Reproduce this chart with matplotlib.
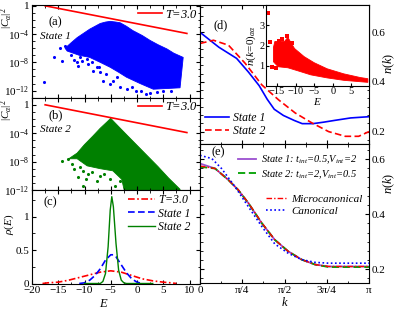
import numpy as np
import matplotlib
matplotlib.use("Agg")
import matplotlib.pyplot as plt
from matplotlib.ticker import MultipleLocator, FixedLocator, LogLocator, NullFormatter, AutoMinorLocator

plt.rcParams['font.family'] = ['Liberation Serif', 'DejaVu Serif']
plt.rcParams['mathtext.fontset'] = 'custom'
plt.rcParams['mathtext.rm'] = 'Liberation Serif'
plt.rcParams['mathtext.it'] = 'Liberation Serif:italic'
plt.rcParams['font.size'] = 8
plt.rcParams['xtick.direction'] = 'in'
plt.rcParams['ytick.direction'] = 'in'
plt.rcParams['xtick.major.size'] = 3
plt.rcParams['ytick.major.size'] = 3
plt.rcParams['xtick.minor.size'] = 1.8
plt.rcParams['ytick.minor.size'] = 1.8
plt.rcParams['axes.linewidth'] = 0.8

# ---------------- data ----------------
# Boltzmann weight line T=3.0 (log scale straight line)
T_line_E = [-17.5, 9.5]
T_line_val = [1.0, 1.23e-4]

# panel (a) State 1 cloud: log10 |C|^2 envelopes
a_up_E = [-13.7, -12.5, -11.4, -10, -9, -8, -7, -6, -5.1, -4, -3.2, -2, -0.8, 1, 2.5, 4, 5.7, 7, 8.8]
a_up_v = [-6.0, -5.2, -4.5, -3.8, -3.3, -2.9, -2.5, -2.3, -2.2, -2.3, -2.4, -2.9, -3.5, -4.2, -4.9, -5.5, -6.1, -6.7, -7.3]
a_lo_E = [-13.7, -13.3, -11, -9, -7, -5.1, -3.5, -2, 0.6, 3.1, 5.7, 8.2, 8.8]
a_lo_v = [-6.0, -6.4, -7.0, -7.3, -8.0, -8.7, -9.4, -10.1, -11.0, -11.8, -11.7, -11.6, -7.3]
a_out_E = [-15.9, -14.3, -14.7, -13.7, -17.7, -11.5, -11.2, -9.6, -9.3, -8.3, -7.0, -6.4, -5.1, -3.2,
           -2.0, -0.1, 1.8, 3.8, -3.9, -7.7, -9.0, -10.5, -9.9, -12.5, -12.0, -8.6, -6.0, -4.5,
           -1.0, 0.8, 2.5, 5.0, 6.5, -10.8, -7.3]
a_out_v = [-7.3, -7.8, -5.9, -5.65, -10.8, -8.0, -8.5, -7.5, -8.2, -9.2, -9.4, -10.6, -11.1, -11.5,
           -11.8, -12.0, -12.5, -12.2, -10.1, -8.7, -6.8, -7.8, -6.6, -6.9, -7.6, -7.9, -9.6, -10.6,
           -11.5, -12.1, -12.3, -12.0, -12.1, -7.2, -8.6]

# panel (b) State 2 cloud
b_up_E = [-13.0, -11.4, -10, -8.4, -7, -5.7, -5.0, -4.5, -2, 0, 2, 4, 6, 8.2]
b_up_v = [-7.6, -6.8, -5.6, -4.4, -3.3, -2.4, -1.9, -2.3, -4.2, -5.7, -7.2, -8.7, -10.3, -11.9]
b_lo_E = [-13.0, -11.4, -9.5, -7, -4.6, -2.9, -2.3, 8.2]
b_lo_v = [-7.6, -7.6, -8.6, -9.0, -9.3, -10.5, -12.5, -12.5]
b_out_E = [-14.3, -13.1, -12.4, -10.9, -10.2, -9.3, -7.0, -5.1, -7.7, -11.2, -3.2, -4.2, -10.2,
           -8.5, -6.2, -12.0, -9.8]
b_out_v = [-7.9, -7.6, -8.3, -8.8, -9.3, -9.7, -10.0, -10.5, -10.7, -10.2, -10.7, -11.4, -11.5,
           -9.4, -9.8, -9.0, -10.4]

# panel (c) energy distributions
c_T_E = [-18, -17, -15, -13, -11, -9, -7, -5, -3, -1, 1, 3, 5, 6.5, 7.5]
c_T_r = [0.0, 0.01, 0.02, 0.05, 0.09, 0.13, 0.17, 0.19, 0.17, 0.12, 0.07, 0.04, 0.02, 0.01, 0.0]
c_s1_E = [-11, -10, -9, -8, -7, -6, -5, -4.5, -4, -3, -2, -1, 0, 1]
c_s1_r = [0.0, 0.01, 0.05, 0.12, 0.22, 0.35, 0.43, 0.43, 0.40, 0.28, 0.16, 0.07, 0.02, 0.0]
c_s2_E = [-10, -7, -6.5, -6, -5.5, -5.1, -4.8, -4.5, -4, -3.5, -3, -2.5, -2, 3]
c_s2_r = [0.0, 0.0, 0.03, 0.15, 0.55, 1.1, 1.3, 1.15, 0.6, 0.2, 0.05, 0.01, 0.0, 0.0]

# panel (d) momentum distributions
d_k = [0, 0.35, 0.68, 0.9, 1.1, 1.25, 1.38, 1.55, 1.75, 1.9, 2.1, 2.3, 2.5, 2.8, np.pi]
d_s1 = [0.60, 0.54, 0.495, 0.44, 0.385, 0.33, 0.29, 0.265, 0.245, 0.232, 0.232, 0.238, 0.245, 0.255, 0.26]
d_k2 = [0, 0.25, 0.53, 0.84, 1.15, 1.46, 1.77, 2.08, 2.39, 2.70, 2.95, np.pi]
d_s2 = [0.555, 0.568, 0.548, 0.475, 0.388, 0.328, 0.275, 0.235, 0.20, 0.181, 0.181, 0.20]

# inset: n(k=0)_aa vs E
in_up_E = [-16.0, -15.6, -13.0, -12.1, -10.3, -7.7, -5.0, -1.5, 3.0, 7.4, 9.5]
in_up_n = [1.9, 2.2, 2.2, 2.4, 1.85, 1.45, 1.15, 0.85, 0.6, 0.42, 0.36]
in_lo_E = [-16.0, -14.7, -12.1, -9.4, -5.9, -1.5, 3.0, 9.5]
in_lo_n = [1.2, 0.95, 0.9, 0.75, 0.55, 0.4, 0.28, 0.18]
in_out_E = [-17.5, -16.3, -14.5, -12.4, -11.0, -16.8, -13.6, -15.2]
in_out_n = [3.6, 0.95, 2.2, 2.45, 2.1, 2.15, 2.3, 0.9]

# panel (e)
e_k = [0, 0.28, 0.53, 0.71, 0.9, 1.15, 1.39, 1.64, 1.89, 2.14, 2.39, 2.7, np.pi]
e_s1 = [0.584, 0.566, 0.524, 0.488, 0.44, 0.367, 0.307, 0.265, 0.235, 0.217, 0.21, 0.21, 0.21]
e_s2 = [0.572, 0.566, 0.524, 0.488, 0.44, 0.367, 0.307, 0.265, 0.235, 0.217, 0.208, 0.208, 0.208]
e_mic = [0.575, 0.566, 0.524, 0.489, 0.441, 0.368, 0.307, 0.265, 0.235, 0.217, 0.21, 0.21, 0.21]
e_can_k = [0, 0.22, 0.40, 0.65, 0.90, 1.15, 1.39, 1.64, 1.89, 2.14, 2.39, 2.7, np.pi]
e_can = [0.614, 0.602, 0.566, 0.50, 0.427, 0.355, 0.292, 0.258, 0.235, 0.225, 0.222, 0.222, 0.222]

W, H = 396, 311
fig = plt.figure(figsize=(W / 100, H / 100), dpi=100)

def fr(x0, y0, x1, y1):
    return [x0 / W, 1 - y1 / H, (x1 - x0) / W, (y1 - y0) / H]

axa = fig.add_axes(fr(32, 5, 200, 97.7))
axb = fig.add_axes(fr(32, 97.7, 200, 190))
axc = fig.add_axes(fr(32, 190, 200, 283.5))
axd = fig.add_axes(fr(200, 5, 369, 144))
axe = fig.add_axes(fr(200, 144, 369, 283))
axi = fig.add_axes(fr(266, 5, 369, 86))

BLUE = '#0000ff'
GREEN = '#008000'
RED = '#ff0000'

def cloud(ax, upE, upv, loE, lov, oE, ov, color):
    xs = list(upE) + list(loE[::-1])
    ys = [10 ** v for v in list(upv) + list(lov[::-1])]
    ax.fill(xs, ys, color=color, lw=0.6, ec=color)
    ax.scatter(oE, [10 ** v for v in ov], s=5, color=color, lw=0)

for ax, dat, color, lab, st in [
        (axa, (a_up_E, a_up_v, a_lo_E, a_lo_v, a_out_E, a_out_v), BLUE, '(a)', 'State 1'),
        (axb, (b_up_E, b_up_v, b_lo_E, b_lo_v, b_out_E, b_out_v), GREEN, '(b)', 'State 2')]:
    ax.set_yscale('log')
    cloud(ax, *dat, color)
    ax.plot(T_line_E, T_line_val, color=RED, lw=1.2, label='$T$=3.0')
    ax.set_xlim(-20, 12)
    ax.xaxis.set_major_locator(MultipleLocator(5))
    ax.xaxis.set_minor_locator(MultipleLocator(2.5))
    ax.tick_params(axis='x', which='both', top=True, labelbottom=False)
    ax.tick_params(axis='y', which='both', right=True)
    ax.yaxis.set_major_locator(FixedLocator([1e-12, 1e-8, 1e-4, 1]))
    ax.yaxis.set_minor_locator(LogLocator(base=10, numticks=30))
    ax.yaxis.set_minor_formatter(NullFormatter())
    ax.set_yticklabels(['$10^{-12}$', '$10^{-8}$', '$10^{-4}$', '1'])
    ax.set_ylabel(r'$|C_\alpha|^2$', fontsize=8, labelpad=0)
    ax.yaxis.set_label_coords(-0.1, 0.86)
    ax.legend(loc='upper left', bbox_to_anchor=(0.63, 0.96), frameon=False,
              handlelength=1.9, handletextpad=0.3, borderpad=0, borderaxespad=0,
              prop={'style': 'italic', 'size': 9})
    ax.text(0.1, 0.78, lab, transform=ax.transAxes, fontsize=9)
    ax.text(0.045, 0.63, st, transform=ax.transAxes, fontsize=8, style='italic')

axa.set_ylim(1e-13, 1.3)
axb.set_ylim(1e-12, 10)

# (c)
axc.plot(c_T_E, c_T_r, color=RED, ls=(0, (4, 1.5, 1, 1.5)), lw=1.2, label='$T$=3.0')
axc.plot(c_s1_E, c_s1_r, color=BLUE, ls=(0, (4, 2)), lw=1.2, label='State 1')
axc.plot(c_s2_E, c_s2_r, color=GREEN, lw=1.0, label='State 2')
axc.set_xlim(-20, 12)
axc.set_ylim(0, 1.4)
axc.xaxis.set_major_locator(MultipleLocator(5))
axc.xaxis.set_minor_locator(MultipleLocator(2.5))
axc.yaxis.set_major_locator(FixedLocator([0, 0.5, 1]))
axc.yaxis.set_minor_locator(MultipleLocator(0.25))
axc.set_yticklabels(['0', '0.5', '1'])
axc.tick_params(axis='both', which='both', top=True, right=True)
axc.set_xlabel('$E$', fontsize=9, labelpad=0)
axc.xaxis.set_label_coords(0.43, -0.16)
axc.set_ylabel(r'$\rho(E)$', fontsize=8)
axc.yaxis.set_label_coords(-0.095, 0.63)
axc.legend(loc='upper left', bbox_to_anchor=(0.57, 0.96), frameon=False,
           handlelength=2.3, handletextpad=0.3, borderpad=0, borderaxespad=0, labelspacing=0.15,
           prop={'style': 'italic', 'size': 8.5})
axc.text(0.07, 0.84, '(c)', transform=axc.transAxes, fontsize=9)

# (d)
axd.plot(d_k, d_s1, color=BLUE, lw=1.2, label='State 1')
axd.plot(d_k2, d_s2, color=RED, lw=1.2, ls=(0, (4, 2)), label='State 2')
axd.set_xlim(0, np.pi)
axd.set_ylim(0.15, 0.71)
for ax in (axd, axe):
    ax.xaxis.set_major_locator(FixedLocator([0, np.pi / 4, np.pi / 2, 3 * np.pi / 4, np.pi]))
    ax.xaxis.set_minor_locator(MultipleLocator(np.pi / 8))
    ax.yaxis.set_major_locator(MultipleLocator(0.2))
    ax.yaxis.set_minor_locator(AutoMinorLocator(6))
    ax.tick_params(axis='both', which='both', top=True, right=True, left=True,
                   labelleft=False, labelright=True)
    ax.yaxis.set_label_position('right')
    ax.set_ylabel('$n(k)$', fontsize=9)
axd.tick_params(labelbottom=False)
axd.set_yticks([0.2, 0.4, 0.6])
axd.set_yticklabels(['0.2', '0.4', '0.6'])
axd.yaxis.set_label_coords(1.077, 0.58)
axd.legend(loc='upper left', bbox_to_anchor=(0.03, 0.23), frameon=False,
           handlelength=2.0, handletextpad=0.4, borderpad=0, borderaxespad=0, labelspacing=0.1,
           prop={'style': 'italic', 'size': 8.5})
axd.text(0.08, 0.83, '(d)', transform=axd.transAxes, fontsize=9)

# inset
xs = list(in_up_E) + list(in_lo_E[::-1])
ys = list(in_up_n) + list(in_lo_n[::-1])
axi.fill(xs, ys, color=RED, lw=0.6, ec=RED)
axi.scatter(in_out_E, in_out_n, s=6, color=RED, marker='s', lw=0)
axi.set_xlim(-18, 9.8)
axi.set_ylim(0, 4)
axi.xaxis.set_major_locator(MultipleLocator(5))
axi.yaxis.set_major_locator(FixedLocator([1, 2, 3]))
axi.tick_params(axis='both', labelsize=7.5, pad=1, length=2)
axi.set_xlabel('$E$', fontsize=8, labelpad=0)
axi.set_ylabel(r'$n(k\!=\!0)_{\alpha\alpha}$', fontsize=8, labelpad=1)

# (e)
axe.plot(e_k, e_s1, color='#9b4fd0', lw=1.3, label=r'State 1: $t_{int}$=0.5,$V_{int}$=2')
axe.plot(e_k, e_s2, color='#00a000', lw=1.3, ls=(0, (4, 2)), label=r'State 2: $t_{int}$=2,$V_{int}$=0.5')
l_mic, = axe.plot(e_k, e_mic, color=RED, lw=1.0, ls=(0, (4, 1.5, 1, 1.5)))
l_can, = axe.plot(e_can_k, e_can, color=BLUE, lw=1.2, ls=(0, (1, 1.5)))
axe.set_xlim(0, np.pi)
axe.set_ylim(0.15, 0.655)
axe.set_yticks([0.2, 0.4, 0.6])
axe.set_yticklabels(['0.2', '0.4', '0.6'])
axe.set_xticklabels(['0', 'π/4', 'π/2', '3π/4', 'π'])
axe.set_xlabel('$k$', fontsize=9, labelpad=0)
axe.xaxis.set_label_coords(0.5, -0.09)
axe.yaxis.set_label_coords(1.077, 0.72)
leg1 = axe.legend(loc='upper left', bbox_to_anchor=(0.225, 0.93), frameon=False,
                  handlelength=1.7, handletextpad=0.5, borderpad=0, borderaxespad=0, labelspacing=0.2,
                  prop={'style': 'italic', 'size': 7.5})
axe.add_artist(leg1)
axe.legend([l_mic, l_can], ['Microcanonical', 'Canonical'], loc='upper left',
           bbox_to_anchor=(0.39, 0.64), frameon=False,
           handlelength=1.8, handletextpad=0.5, borderpad=0, borderaxespad=0, labelspacing=0.25,
           prop={'style': 'italic', 'size': 8})
axe.text(0.07, 0.92, '(e)', transform=axe.transAxes, fontsize=9)

for ax in (axa, axb, axc, axd, axe):
    ax.tick_params(axis='both', which='major', labelsize=8, pad=2)

fig.savefig('out.png', dpi=100)
